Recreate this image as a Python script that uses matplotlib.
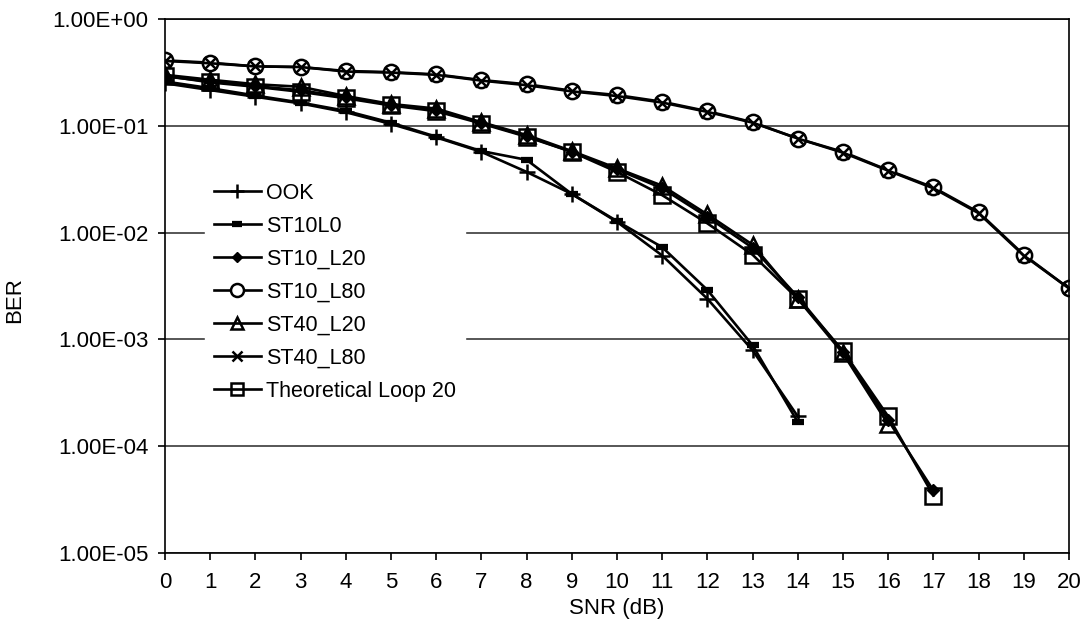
import matplotlib.pyplot as plt
from matplotlib.ticker import FuncFormatter, FixedLocator, NullLocator

plt.rcParams["font.family"] = ["Liberation Sans", "DejaVu Sans"]

# SNR steps (dB)
snr = list(range(0, 21))

# BER curves
ook = [0.25, 0.216, 0.187, 0.162, 0.134, 0.104, 0.078, 0.057, 0.037, 0.023,
       0.0126, 0.0061, 0.0024, 0.00079, 0.00019]
st10_l0 = [0.26, 0.225, 0.192, 0.165, 0.138, 0.107, 0.079, 0.058, 0.048, 0.023,
           0.0128, 0.0073, 0.0029, 0.00088, 0.000168]
st10_l20 = [0.29, 0.26, 0.235, 0.215, 0.185, 0.158, 0.14, 0.107, 0.08, 0.057,
            0.039, 0.026, 0.014, 0.0072, 0.0025, 0.00077, 0.000175, 3.85e-5]
st10_l80 = [0.41, 0.39, 0.36, 0.355, 0.326, 0.318, 0.303, 0.268, 0.245, 0.213,
            0.194, 0.168, 0.137, 0.108, 0.076, 0.057, 0.0384, 0.0265, 0.0155,
            0.0062, 0.003]
st40_l20 = [0.30, 0.27, 0.245, 0.232, 0.19, 0.16, 0.145, 0.108, 0.082, 0.058,
            0.04, 0.0275, 0.0148, 0.0077, 0.0024, 0.00074, 0.00016]
st40_l80 = [0.405, 0.385, 0.36, 0.355, 0.322, 0.315, 0.30, 0.265, 0.24, 0.21,
            0.19, 0.165, 0.135, 0.107, 0.076, 0.056, 0.038, 0.026, 0.0152,
            0.0061, 0.003]
theory_l20 = [0.294, 0.255, 0.232, 0.208, 0.181, 0.155, 0.137, 0.105, 0.079,
              0.057, 0.037, 0.0224, 0.0122, 0.0062, 0.0024, 0.00078, 0.00019,
              3.45e-5]

fig = plt.figure(figsize=(10.86, 6.36), dpi=100)
ax = fig.add_axes([165 / 1086, 83 / 636, 904 / 1086, 534 / 636])

lw = 1.9
mw = 1.8
ax.plot(snr[:len(ook)], ook, color="black", lw=lw, marker="+", ms=12,
        mew=mw, label="OOK")
ax.plot(snr[:len(st10_l0)], st10_l0, color="black", lw=lw, marker="_", ms=9,
        mew=4.5, label="ST10L0")
ax.plot(snr[:len(st10_l20)], st10_l20, color="black", lw=lw, marker="D", ms=6,
        label="ST10_L20")
ax.plot(snr[:len(st10_l80)], st10_l80, color="black", lw=lw, marker="o", ms=11,
        mfc="white", mew=mw, label="ST10_L80")
ax.plot(snr[:len(st40_l20)], st40_l20, color="black", lw=lw, marker="^", ms=11,
        mfc="none", mew=mw, label="ST40_L20")
ax.plot(snr[:len(st40_l80)], st40_l80, color="black", lw=lw, marker="x", ms=8,
        mew=mw, label="ST40_L80")
ax.plot(snr[:len(theory_l20)], theory_l20, color="black", lw=lw, marker="s",
        ms=11, mfc="none", mew=mw, label="Theoretical Loop 20")

ax.set_yscale("log")
ax.set_ylim(1e-5, 1)
ax.set_xlim(0, 20)
ax.xaxis.set_major_locator(FixedLocator(snr))
ax.yaxis.set_major_locator(FixedLocator([1e-5, 1e-4, 1e-3, 1e-2, 1e-1, 1]))
ax.yaxis.set_minor_locator(NullLocator())
ax.yaxis.set_major_formatter(FuncFormatter(lambda v, p: f"{v:.2E}"))

ax.grid(True, axis="y", color="#3a3a3a", lw=1.2)
ax.set_axisbelow(True)
for s in ax.spines.values():
    s.set_color("black")
    s.set_linewidth(1.2)

ax.tick_params(axis="both", direction="out", length=5, width=1.2,
               labelsize=16, colors="black")
ax.tick_params(axis="y", pad=7)
ax.tick_params(axis="x", pad=9)

ax.set_xlabel("SNR (dB)", fontsize=16)
ax.set_ylabel("BER", fontsize=16)
ax.xaxis.set_label_coords(0.5, -0.103)
ax.xaxis.label.set_va("center")
ax.yaxis.set_label_coords(-0.166, 0.474)
ax.yaxis.label.set_va("center")

leg = ax.legend(loc="upper left", bbox_to_anchor=(205 / 1086, 1 - 174 / 636),
                bbox_transform=fig.transFigure, borderaxespad=0, fontsize=15.5,
                frameon=True, fancybox=False, handlelength=2.2,
                handletextpad=0.25, labelspacing=0.56, borderpad=0.4,
                markerscale=0.85)
leg.get_frame().set_facecolor("white")
leg.get_frame().set_edgecolor("white")
leg.get_frame().set_alpha(1)

fig.savefig("out.png", dpi=100)
